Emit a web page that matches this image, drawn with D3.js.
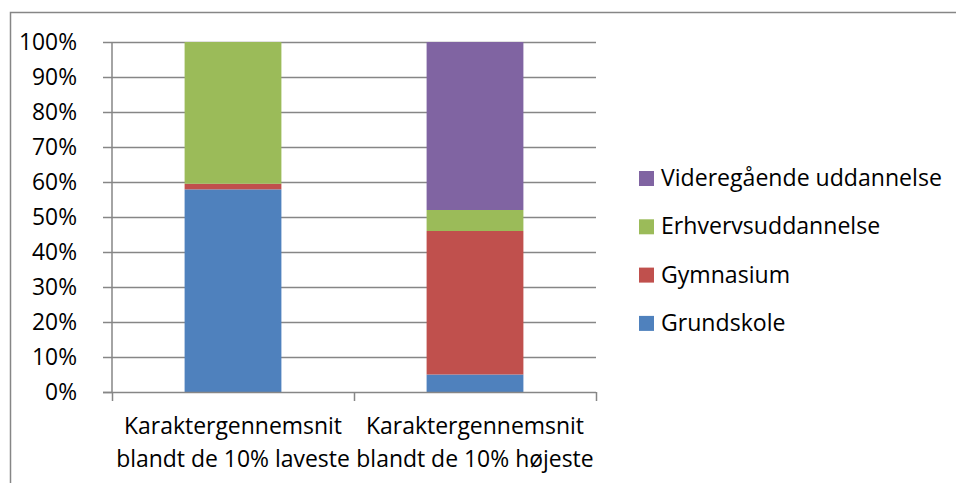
<!DOCTYPE html>
<html><head><meta charset="utf-8">
<script src="https://cdn.jsdelivr.net/npm/d3@7"></script>
<style>html,body{margin:0;background:#fff;overflow:hidden}svg{display:block}text{font-family:"Open Sans",sans-serif;fill:#000}</style>
</head><body>
<svg id="c" width="956" height="483"></svg>
<script>
const categories = [["Karaktergennemsnit","blandt de 10% laveste"],["Karaktergennemsnit","blandt de 10% højeste"]];
const seriesNames = ["Grundskole","Gymnasium","Erhvervsuddannelse","Videregående uddannelse"];
const grundskole = [57.9, 5.0];
const gymnasium = [1.6, 41.0];
const erhverv = [40.5, 6.0];
const videregaaende = [0, 48.0];
const colors = ["#4F81BD","#C0504D","#9BBB59","#8064A2"];
const yTicks = [0,10,20,30,40,50,60,70,80,90,100];

(function(){
const svg = d3.select("#c");
const FF = "'Open Sans',sans-serif";
function fitSize(str, target){
  const t = svg.append("text").attr("font-size",20).attr("font-family",FF).text(str);
  const w = t.node().getComputedTextLength(); t.remove();
  return 20*target/w;
}
const fsY = fitSize("100%", 58);
const fsX = fitSize("Karaktergennemsnit", 218);
const fsL = fitSize("Videregående uddannelse", 281);

svg.append("path").attr("d","M10.5,483V12.5H956").attr("fill","none").attr("stroke","#868686").attr("stroke-width",1.5);

const pL = 112, pR = 596, pT = 42, pB = 392;
const x = d3.scaleBand().domain(d3.range(categories.length)).range([pL,pR]).paddingInner(0).paddingOuter(0);
const y = d3.scaleLinear().domain([0,100]).range([pB,pT]);

svg.append("g").selectAll("line").data(yTicks.filter(t=>t>0)).join("line")
  .attr("x1",pL).attr("x2",pR).attr("y1",d=>Math.round(y(d))+0.5).attr("y2",d=>Math.round(y(d))+0.5)
  .attr("stroke","#868686").attr("stroke-width",1.5);

const yAx = svg.append("g").attr("transform",`translate(${pL},0)`)
  .call(d3.axisLeft(y).tickValues(yTicks).tickFormat(d=>d+"%").tickSize(9).tickPadding(26));
yAx.select(".domain").attr("stroke","#868686").attr("stroke-width",1.5).attr("d",`M0,${pT}V${pB}`);
yAx.selectAll(".tick line").attr("stroke","#868686").attr("stroke-width",1.5);
yAx.selectAll(".tick text").attr("font-size",fsY).attr("font-family",FF).attr("fill","#000")
  .attr("dy",null).attr("y",7);

const data = categories.map((c,i)=>({i, Grundskole:grundskole[i], Gymnasium:gymnasium[i], Erhvervsuddannelse:erhverv[i], "Videregående uddannelse":videregaaende[i]}));
const stack = d3.stack().keys(seriesNames)(data);
const bw = x.bandwidth()*0.4;
svg.append("g").selectAll("g").data(stack).join("g").attr("fill",(d,k)=>colors[k])
  .selectAll("rect").data(d=>d).join("rect")
  .attr("x",d=>x(d.data.i)+x.bandwidth()/2-bw/2).attr("width",bw)
  .attr("y",d=>y(d[1])).attr("height",d=>y(d[0])-y(d[1]));

const xAx = svg.append("g").attr("transform",`translate(0,${pB})`);
xAx.append("line").attr("x1",pL-9).attr("x2",pR).attr("y1",0.5).attr("y2",0.5).attr("stroke","#868686").attr("stroke-width",1.5);
const xt = [pL, pL+x.bandwidth(), pR];
xAx.selectAll("line.t").data(xt).join("line").attr("class","t")
  .attr("x1",d=>d+0.5).attr("x2",d=>d+0.5).attr("y1",0).attr("y2",9).attr("stroke","#868686").attr("stroke-width",1.5);
const lab = xAx.selectAll("text").data(categories).join("text")
  .attr("text-anchor","middle").attr("font-size",fsX);
lab.each(function(c,i){
  const t = d3.select(this);
  c.forEach((s,j)=>t.append("tspan").attr("x",x(i)+x.bandwidth()/2).attr("y",42+j*33).text(s));
});

const leg = svg.append("g");
const legOrder = seriesNames.map((n,k)=>({n,k})).reverse();
legOrder.forEach((d,j)=>{
  const base = 186 + j*48.3;
  leg.append("rect").attr("x",639).attr("y",base-15).attr("width",15).attr("height",15).attr("fill",colors[d.k]);
  leg.append("text").attr("x",661).attr("y",base).attr("font-size",fsL).text(d.n);
});
})();
</script>
</body></html>
